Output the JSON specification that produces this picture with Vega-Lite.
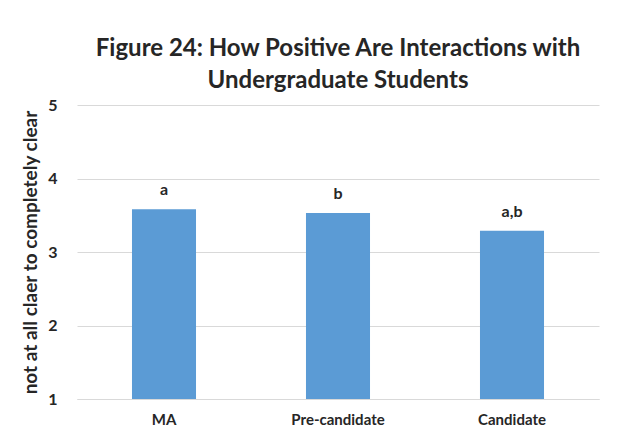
{
  "$schema": "https://vega.github.io/schema/vega-lite/v6.json",
  "autosize": {"type": "none"},
  "padding": {"left": 77, "top": 105, "right": 40, "bottom": 48},
  "width": 522,
  "height": 294,
  "background": "white",
  "title": {
    "text": ["Figure 24: How Positive Are Interactions with", "Undergraduate Students"],
    "font": "Lato",
    "fontSize": 24,
    "fontWeight": "bold",
    "color": "#262626",
    "lineHeight": 32,
    "anchor": "middle",
    "offset": 4
  },
  "data": {
    "values": [
      {"group": "MA", "value": 3.58, "label": "a"},
      {"group": "Pre-candidate", "value": 3.53, "label": "b"},
      {"group": "Candidate", "value": 3.29, "label": "a,b"}
    ]
  },
  "encoding": {
    "x": {
      "field": "group",
      "type": "nominal",
      "sort": null,
      "scale": {"paddingInner": 0.632, "paddingOuter": 0.316},
      "axis": {
        "title": null,
        "labelAngle": 0,
        "labelFont": "Lato",
        "labelFontSize": 15,
        "labelFontWeight": "bold",
        "labelColor": "#262626",
        "labelPadding": 13,
        "ticks": false,
        "domain": true,
        "domainColor": "#D9D9D9",
        "domainWidth": 1
      }
    },
    "y": {
      "field": "value",
      "type": "quantitative",
      "scale": {"domain": [1, 5], "nice": false, "zero": false},
      "axis": {
        "title": "not at all claer to completely clear",
        "titleFont": "Lato",
        "titleFontSize": 19,
        "titleFontWeight": "bold",
        "titleColor": "#262626",
        "titlePadding": 7,
        "values": [1, 2, 3, 4, 5],
        "labelFont": "Lato",
        "labelFontSize": 16,
        "labelFontWeight": "bold",
        "labelColor": "#262626",
        "labelPadding": 20,
        "ticks": false,
        "domain": false,
        "grid": true,
        "gridColor": "#D9D9D9",
        "gridWidth": 1.2
      }
    }
  },
  "layer": [
    {
      "mark": {"type": "bar", "color": "#5B9BD5"},
      "encoding": {"y2": {"datum": 1}}
    },
    {
      "mark": {
        "type": "text",
        "font": "Lato",
        "fontSize": 16,
        "fontWeight": "bold",
        "color": "#262626",
        "baseline": "alphabetic",
        "dy": -14
      },
      "encoding": {"text": {"field": "label"}}
    }
  ],
  "config": {"view": {"stroke": null}}
}
